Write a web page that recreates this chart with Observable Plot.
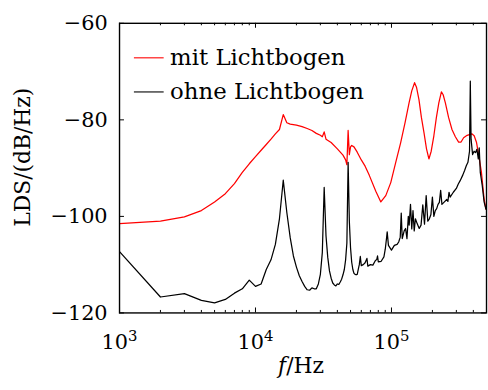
<!DOCTYPE html>
<html><head><meta charset="utf-8">
<script src="https://cdn.jsdelivr.net/npm/d3@7"></script>
<script src="https://cdn.jsdelivr.net/npm/@observablehq/plot@0.6"></script>
<style>
html,body{margin:0;padding:0;overflow:hidden;background:#fff;}
</style></head><body><div id="chart"></div>
<script>
// ---- data ----
const seriesNames = ["mit Lichtbogen", "ohne Lichtbogen"];
const seriesColors = ["#ff0000", "#000000"];

const redF = [1000,2000,3000,4000,5000,6000,7000,8000,9000,10000,11000,12000,13000,14000,15000,16000,17000,18000,20000,22000,24000,26000,28000,30000,31000,32000,33000,36000,40000,44000,46000,47000,48000,49000,50000,51000,53000,56000,60000,64000,68700,76700,83500,90800,98800,107500,116900,126000,134700,141000,147900,153000,159300,166000,173300,181000,188500,196000,205000,214000,223000,232900,240000,249100,263000,278600,295000,311800,325000,339300,360000,379500,390000,405700,422300,438800,459000,479700,495000];
const redV = [-101.5,-101.0,-100.1,-98.8,-97.0,-95.3,-93.2,-90.9,-89.1,-87.6,-86.3,-85.1,-84.0,-82.9,-82.0,-78.9,-80.6,-80.9,-81.1,-81.4,-81.8,-82.2,-82.8,-83.2,-83.5,-82.5,-84.0,-84.7,-86.0,-87.3,-88.3,-89.3,-82.2,-87.2,-85.6,-85.3,-85.6,-86.7,-88.3,-89.6,-91.5,-94.8,-97.0,-95.7,-93.0,-88.8,-84.7,-80.5,-76.5,-74.0,-72.3,-73.3,-75.8,-79.5,-82.6,-86.0,-88.1,-86.5,-83.3,-79.5,-76.5,-74.2,-74.8,-76.5,-79.5,-82.0,-83.5,-84.6,-84.6,-83.7,-83.2,-83.0,-82.9,-83.3,-84.7,-87.4,-90.9,-96.3,-98.5];

const blackF = [1000,2000,3000,4000,5000,6000,7000,8000,9000,10000,11000,12000,13000,14000,15000,16000,17000,18000,19000,20000,21000,22000,23000,24000,25000,26000,27000,28000,29000,30000,31000,32000,33000,34000,35000,36000,37000,38000,39000,40000,41000,42000,43000,44000,45000,46000,47000,48000,49000,50000,51000,52000,53000,54000,55000,56000,57000,58000,59000,60000,62000,64000,66000,67000,70000,73000,76000,78000,79000,80000,84000,88000,90000,92000,93000,95000,100000,105000,110000,113000,116000,118000,120000,124000,127000,130000,133000,135000,138000,141000,144000,147000,150000,155000,160000,165000,170000,175000,180000,185000,190000,195000,200000,205000,210000,215000,220000,225000,230000,235000,245000,255000,260000,265000,270000,285000,300000,310000,320000,335000,345000,355000,365000,375000,380000,385000,395000,405000,415000,425000,435000,442000,450000,465000,480000,495000];
const blackV = [-107.3,-116.7,-116.0,-117.4,-117.9,-117.2,-115.9,-115.0,-113.2,-114.5,-114.0,-111.0,-109.0,-105.8,-100.5,-92.5,-99.2,-104.4,-108.2,-110.5,-112.3,-113.5,-114.5,-115.2,-115.3,-114.8,-115.0,-115.0,-114.0,-112.0,-107.5,-94.0,-104.0,-108.5,-111.3,-112.8,-113.8,-114.2,-114.4,-114.0,-114.1,-113.6,-113.0,-112.1,-111.0,-109.0,-105.5,-88.8,-101.0,-106.5,-109.5,-111.0,-111.8,-112.0,-112.1,-112.0,-111.0,-110.0,-108.3,-110.2,-110.0,-109.6,-108.7,-110.3,-110.0,-110.1,-109.2,-108.9,-108.2,-109.4,-109.3,-108.4,-106.8,-104.5,-103.2,-106.0,-107.0,-106.0,-105.8,-105.3,-104.3,-99.3,-104.6,-103.0,-102.5,-104.6,-100.0,-101.8,-97.5,-102.6,-98.8,-103.0,-100.5,-101.6,-102.5,-101.8,-97.6,-101.6,-95.7,-101.0,-100.5,-99.6,-96.0,-100.0,-98.8,-98.4,-97.5,-97.1,-94.6,-97.5,-97.0,-96.5,-96.9,-95.0,-96.0,-95.0,-94.2,-93.3,-92.6,-91.4,-90.5,-89.5,-88.8,-86.5,-72.0,-84.0,-87.2,-86.5,-86.8,-86.1,-88.1,-85.8,-90.9,-93.6,-97.0,-98.5];

const xDomain = [1e3, 5e5];
const yDomain = [-120, -60];
const xTicks = [1e3, 1e4, 1e5];
const xMinorTicks = [2e3,3e3,4e3,5e3,6e3,7e3,8e3,9e3,2e4,3e4,4e4,5e4,6e4,7e4,8e4,9e4,2e5,3e5,4e5];
const yTicks = [-120, -100, -80, -60];
const xLabel = "f/Hz";
const yLabel = "LDS/(dB/Hz)";

// ---- build ----
const red = redF.map((f, i) => ({f, v: redV[i]}));
const black = blackF.map((f, i) => ({f, v: blackV[i]}));

const W = 492, H = 390, mL = 120, mR = 2, mT = 23, mB = 75;
const plotH = H - mT - mB;
const plotW = W - mL - mR;
const sup = "⁰¹²³⁴⁵⁶⁷⁸⁹";
const minus = d => (d < 0 ? "\u2212" : "") + Math.abs(d);

const chart = Plot.plot({
  width: W, height: H,
  marginLeft: mL, marginRight: mR, marginTop: mT, marginBottom: mB,
  style: {fontFamily: "'DejaVu Serif', serif", fontSize: "21px", color: "#000", background: "#fff", overflow: "visible"},
  x: {type: "log", domain: xDomain},
  y: {domain: yDomain},
  marks: [
    Plot.line(red, {x: "f", y: "v", stroke: seriesColors[0], strokeWidth: 1.25, clip: true}),
    Plot.line(black, {x: "f", y: "v", stroke: seriesColors[1], strokeWidth: 1.25, clip: true}),
    Plot.tickX(xTicks, {x: d => d, insetTop: plotH - 5, stroke: "#000"}),
    Plot.tickX(xTicks, {x: d => d, insetBottom: plotH - 5, stroke: "#000"}),
    Plot.tickX(xMinorTicks, {x: d => d, insetTop: plotH - 2.5, stroke: "#000"}),
    Plot.tickX(xMinorTicks, {x: d => d, insetBottom: plotH - 2.5, stroke: "#000"}),
    Plot.tickY(yTicks, {y: d => d, insetRight: plotW - 5, stroke: "#000"}),
    Plot.tickY(yTicks, {y: d => d, insetLeft: plotW - 5, stroke: "#000"}),
    Plot.frame({stroke: "#000", strokeWidth: 1.4}),
    Plot.axisX(xTicks, {tickSize: 0, tickPadding: 21, label: null, fontSize: 21,
      tickFormat: d => "10" + sup[Math.round(Math.log10(d))]}),
    Plot.axisY(yTicks, {tickSize: 0, tickPadding: 12, label: null, fontSize: 21, tickFormat: minus}),
    Plot.text([yLabel], {frameAnchor: "left", rotate: -90, dx: -97, dy: -11, fontSize: 22, textAnchor: "middle"}),
    Plot.text([xLabel], {frameAnchor: "bottom", dx: -2, dy: 61, fontSize: 22, textAnchor: "middle"})
  ]
});
document.getElementById("chart").appendChild(chart);

// superscript exponents and italic f
chart.querySelectorAll("text").forEach(t => {
  const s = t.textContent;
  const m = s.match(/^10([⁰¹²³⁴⁵⁶⁷⁸⁹])$/);
  if (m) {
    t.textContent = "10";
    const ts = document.createElementNS("http://www.w3.org/2000/svg", "tspan");
    ts.setAttribute("dy", "-8");
    ts.setAttribute("font-size", "15");
    ts.textContent = String(sup.indexOf(m[1]));
    t.appendChild(ts);
  } else if (s === xLabel) {
    t.textContent = "";
    const a = document.createElementNS("http://www.w3.org/2000/svg", "tspan");
    a.setAttribute("font-style", "italic");
    a.textContent = "f";
    const b = document.createElementNS("http://www.w3.org/2000/svg", "tspan");
    b.textContent = "/Hz";
    t.appendChild(a); t.appendChild(b);
  }
});

// legend inside plot (top-left)
const svg = d3.select(chart);
const lg = svg.append("g").attr("font-family", "'DejaVu Serif', serif").attr("font-size", 23)
  .attr("text-anchor", "start");
seriesNames.forEach((name, i) => {
  const yb = 65.7 + i * 34.4;
  lg.append("line").attr("x1", 135).attr("x2", 165).attr("y1", yb - 7.4).attr("y2", yb - 7.4)
    .attr("stroke", seriesColors[i]).attr("stroke-width", 1.1);
  lg.append("text").attr("x", 171.5).attr("y", yb).attr("fill", "#000")
    .style("text-anchor", "start").style("font-size", "23px").text(name);
});
</script></body></html>
